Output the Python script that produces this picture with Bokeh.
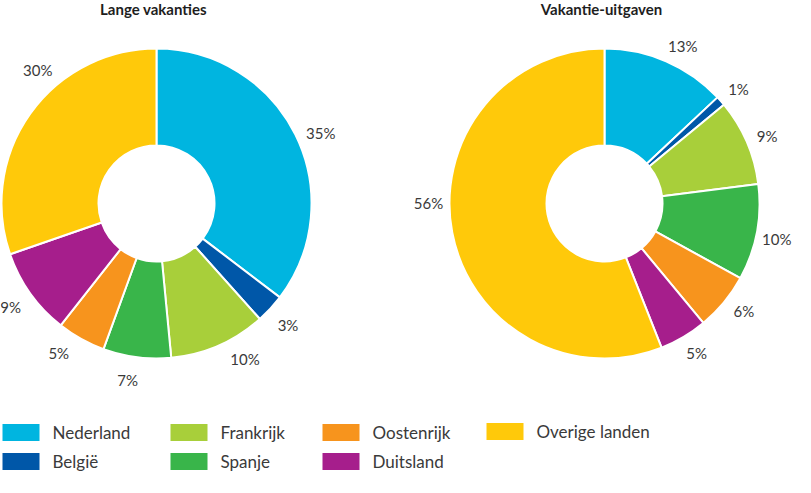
import numpy as np
from bokeh.plotting import figure
from bokeh.models import Range1d, ColumnDataSource
from bokeh.embed import file_html
from bokeh.resources import INLINE
from bokeh.core.properties import value

countries = ["Nederland", "België", "Frankrijk", "Spanje", "Oostenrijk", "Duitsland", "Overige landen"]
colors = ["#00B5E0", "#0057A8", "#A8CF3A", "#39B54A", "#F7941D", "#A61E8C", "#FFC90A"]
lange_vakanties = [35, 3, 10, 7, 5, 9, 30]
vakantie_uitgaven = [13, 1, 9, 10, 6, 5, 56]
titles = ["Lange vakanties", "Vakantie-uitgaven"]

# label placement tweaks (degrees, clockwise), layout only
nudge_left = [3, 0, -6, 2, 4, 0, 13]
nudge_right = [3, 1, 1, 1, -2, -1, 11]

FONT = "Lato"
W, H = 795, 477
R_OUT, R_IN = 155, 58

p = figure(width=W, height=H, x_range=Range1d(0, W), y_range=Range1d(0, H),
           output_backend="svg", toolbar_location=None, min_border=0,
           x_axis_type=None, y_axis_type=None)
p.grid.visible = False
p.outline_line_color = None


def donut(vals, cx, cy, title, nudge, r_lab):
    v = np.array(vals, dtype=float)
    frac = v / v.sum()
    cum = np.concatenate([[0.0], np.cumsum(frac)])
    start = np.pi / 2 - cum[1:] * 2 * np.pi
    end = np.pi / 2 - cum[:-1] * 2 * np.pi
    mid = np.pi / 2 - (cum[:-1] + frac / 2) * 2 * np.pi - np.radians(nudge)
    src = ColumnDataSource(dict(
        start=start, end=end, color=colors,
        lx=cx + r_lab * np.cos(mid), ly=cy + r_lab * np.sin(mid),
        lab=[f"{int(x)}%" for x in vals]))
    p.annular_wedge(x=cx, y=cy, inner_radius=R_IN, outer_radius=R_OUT,
                    start_angle="start", end_angle="end", fill_color="color",
                    line_color="white", line_width=2, source=src)
    p.text(x="lx", y="ly", text="lab", source=src, text_align="center",
           text_baseline="middle", text_font=value(FONT), text_font_size="15px",
           text_color="#3a3a3a")
    p.text(x=[cx - 3], y=[469], text=[title], text_align="center",
           text_baseline="middle", text_font=value(FONT), text_font_size="15px",
           text_font_style="bold", text_color="#1e1e1e")


donut(lange_vakanties, 156, 274, titles[0], nudge_left, 179)
donut(vakantie_uitgaven, 604, 274, titles[1], nudge_right, 176)

# legend (column-major, 2 rows)
col_x = [20.5, 188.5, 340.5, 504.5]
row_y = [45, 16]
sx, sy, tx, ty, lab = [], [], [], [], []
for i, name in enumerate(countries):
    c, r = (3, 0) if i == 6 else (i // 2, i % 2)
    yy = row_y[r] + (1 if i == 6 else 0)
    sx.append(col_x[c]); sy.append(yy)
    tx.append(col_x[c] + 31.5); ty.append(yy)
    lab.append(name)
p.rect(x=sx, y=sy, width=37, height=17, fill_color=colors, line_color=None)
p.text(x=tx, y=ty, text=lab, text_align="left", text_baseline="middle",
       text_font=value(FONT), text_font_size="17px", text_color="#3a3a3a")

open("out.html", "w").write(file_html(p, INLINE))
